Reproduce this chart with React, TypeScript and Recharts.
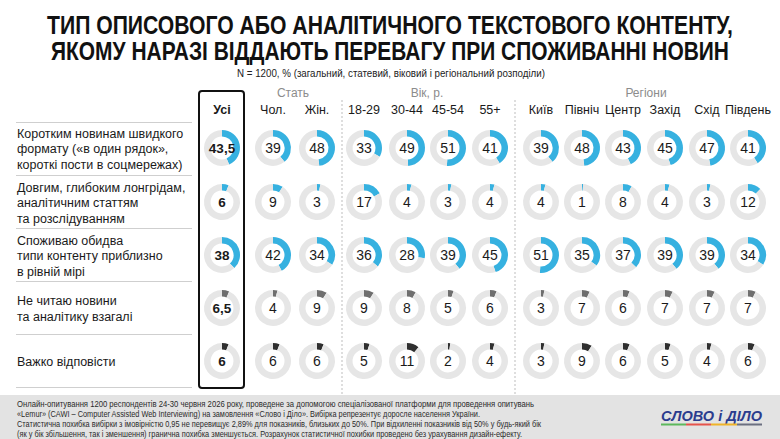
import { PieChart, Pie, Cell } from "recharts";

// columns: total, sex, age, region
const columns = ["Усі", "Чол.", "Жін.", "18-29", "30-44", "45-54", "55+", "Київ", "Північ", "Центр", "Захід", "Схід", "Південь"];
const groupTitles = ["Стать", "Вік, р.", "Регіони"];

const answerLabels = [
  ["Коротким новинам швидкого", "формату («в один рядок»,", "короткі пости в соцмережах)"],
  ["Довгим, глибоким лонгрідам,", "аналітичним статтям", "та розслідуванням"],
  ["Споживаю обидва", "типи контенту приблизно", "в рівній мірі"],
  ["Не читаю новини", "та аналітику взагалі"],
  ["Важко відповісти"],
];

const shortNews = [43.5, 39, 48, 33, 49, 51, 41, 39, 48, 43, 45, 47, 41];
const longReads = [6, 9, 3, 17, 4, 3, 4, 4, 1, 8, 4, 3, 12];
const both = [38, 42, 34, 36, 28, 39, 45, 51, 35, 37, 39, 39, 34];
const dontRead = [6.5, 4, 9, 9, 8, 5, 6, 3, 7, 6, 7, 7, 7];
const hardToSay = [6, 6, 6, 5, 11, 2, 4, 3, 9, 6, 5, 4, 6];

const series = [shortNews, longReads, both, dontRead, hardToSay];

const titleLines = [
  "ТИП ОПИСОВОГО АБО АНАЛІТИЧНОГО ТЕКСТОВОГО КОНТЕНТУ,",
  "ЯКОМУ НАРАЗІ ВІДДАЮТЬ ПЕРЕВАГУ ПРИ СПОЖИВАННІ НОВИН",
];

const footnote = [
  "Онлайн-опитування 1200 респондентів 24-30 червня 2026 року, проведене за допомогою спеціалізованої платформи для проведення опитувань",
  "«Lemur» (CAWI – Computer Assisted Web Interviewing) на замовлення «Слово і Діло». Вибірка репрезентує доросле населення України.",
  "Статистична похибка вибірки з імовірністю 0,95 не перевищує 2,89% для показників, близьких до 50%. При відхиленні показників від 50% у будь-який бік",
  "(як у бік збільшення, так і зменшення) гранична похибка зменшується. Розрахунок статистичної похибки проведено без урахування дизайн-ефекту.",
];

// layout
const W = 780;
const H = 439;
const colX = [222, 273, 317, 364, 407, 448, 490, 541, 582, 623, 665, 707, 748];
const groupX = [293, 427, 646];
const rowY = [148, 202, 255, 308, 361];
const dividerY = [122, 175, 228, 281, 334, 387];
const titleY = [34, 60];
const titleLen = [686, 678];
const TITLE_SCALE = 0.76;
const footLen = [517, 463, 524, 505];
const rowColors = ["#36b1e0", "#36b1e0", "#36b1e0", "#6e6e6e", "#2f2f2f"];
const TRACK = "#e6e6e6";
const FONT = "'Liberation Sans', Arial, sans-serif";
const NARROW = "'Liberation Sans Narrow', 'Liberation Sans', Arial, sans-serif";

const fmt = (v: number) => String(v).replace(".", ",");

export default function App() {
  return (
    <div style={{ position: "absolute", left: 0, top: 0, width: W, height: H, background: "#fff", fontFamily: FONT }}>
      <svg width={W} height={H} style={{ position: "absolute", left: 0, top: 0 }}>
        {/* condensed headline: squeeze horizontally, then fit exact width */}
        {titleLines.map((t, i) => (
          <text
            key={i}
            transform={`scale(${TITLE_SCALE} 1)`}
            x={390 / TITLE_SCALE}
            y={titleY[i]}
            textAnchor="middle"
            fontFamily={NARROW}
            fontWeight={700}
            fontSize={25}
            fill="#111"
            textLength={titleLen[i] / TITLE_SCALE}
            lengthAdjust="spacingAndGlyphs"
          >
            {t}
          </text>
        ))}
        <text x={391} y={77} textAnchor="middle" fontFamily={NARROW} fontSize={10.5} fill="#222" textLength={308} lengthAdjust="spacingAndGlyphs">
          N = 1200, % (загальний, статевий, віковий і регіональний розподіли)
        </text>

        {groupTitles.map((g, i) => (
          <text key={g} x={groupX[i]} y={97} textAnchor="middle" fontSize={12} fill="#8c8c8c">{g}</text>
        ))}
        {columns.map((c, i) => (
          <text key={c} x={colX[i]} y={114} textAnchor="middle" fontSize={12.5} fontWeight={i === 0 ? 700 : 400} fill="#1a1a1a">{c}</text>
        ))}

        <rect x={199} y={91} width={45} height={297} rx={3} fill="none" stroke="#111" strokeWidth={2} />
        {[342, 515].map((x) => (
          <line key={x} x1={x} x2={x} y1={100} y2={394} stroke="#bdbdbd" strokeDasharray="2 2" />
        ))}

        {dividerY.map((y) => (
          <line key={y} x1={16} x2={192} y1={y + 0.5} y2={y + 0.5} stroke="#cfcfcf" />
        ))}
        {answerLabels.map((lines, r) =>
          lines.map((t, k) => (
            <text key={`${r}-${k}`} x={17} y={rowY[r] + 1 + (k - (lines.length - 1) / 2) * 15.5} dominantBaseline="central" fontSize={12.5} fill="#1a1a1a">{t}</text>
          ))
        )}

        <rect x={0} y={395} width={W} height={H - 395} fill="#e3e3e3" />
        {footnote.map((t, i) => (
          <text key={i} x={17} y={406.5 + i * 10} fontFamily={NARROW} fontSize={9} fill="#2a2a2a" textLength={footLen[i]} lengthAdjust="spacingAndGlyphs">{t}</text>
        ))}
        <text x={661} y={421} fontFamily={FONT} fontWeight={700} fontStyle="italic" fontSize={15} fill="#2b3c8e" textLength={101} lengthAdjust="spacingAndGlyphs">СЛОВО і ДІЛО</text>
        <rect x={661} y={423.5} width={25} height={2} fill="#5cb85c" />
        <rect x={686} y={423.5} width={25} height={2} fill="#e5534b" />
        <rect x={711} y={423.5} width={26} height={2} fill="#f0b429" />
        <rect x={737} y={423.5} width={25} height={2} fill="#6b6f80" />
      </svg>

      <div style={{ position: "absolute", left: 0, top: 0 }}>
        <PieChart width={W} height={H} margin={{ top: 0, right: 0, bottom: 0, left: 0 }}>
          {series.map((values, r) =>
            values.map((v, c) => (
              <Pie
                key={`${r}-${c}`}
                data={[{ name: "share", value: v }, { name: "rest", value: 100 - v }]}
                dataKey="value"
                cx={colX[c]}
                cy={rowY[r]}
                innerRadius={11.5}
                outerRadius={18}
                startAngle={90}
                endAngle={-270}
                stroke="none"
                isAnimationActive={false}
              >
                <Cell fill={rowColors[r]} />
                <Cell fill={TRACK} />
              </Pie>
            ))
          )}
        </PieChart>
      </div>

      <svg width={W} height={H} style={{ position: "absolute", left: 0, top: 0, pointerEvents: "none" }}>
        {series.map((values, r) =>
          values.map((v, c) => (
            <text key={`${r}-${c}`} x={colX[c]} y={rowY[r]} textAnchor="middle" dominantBaseline="central" fontSize={c === 0 ? 13.5 : 14} fontWeight={c === 0 ? 700 : 400} fill="#1a1a1a">
              {fmt(v)}
            </text>
          ))
        )}
      </svg>
    </div>
  );
}
